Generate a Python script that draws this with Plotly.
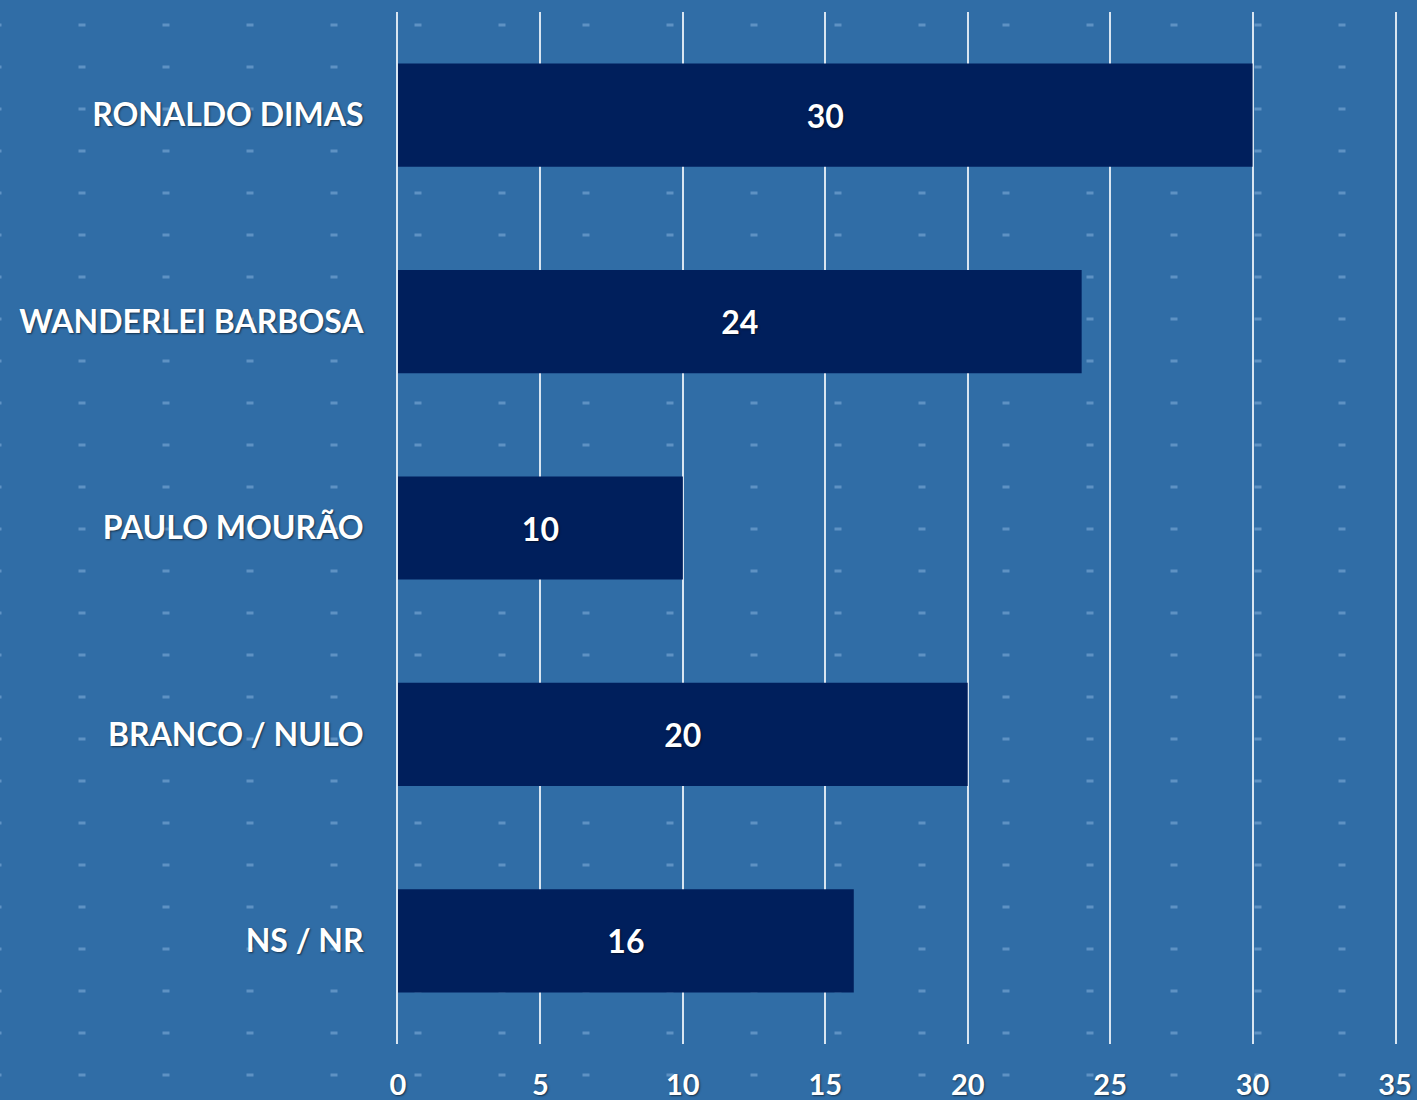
import plotly.graph_objects as go

categories = ["RONALDO DIMAS", "WANDERLEI BARBOSA", "PAULO MOURÃO", "BRANCO / NULO", "NS / NR"]
values = [30, 24, 10, 20, 16]
tick_vals = [0, 5, 10, 15, 20, 25, 30, 35]

W, H = 1417, 1100
L, R, T, B = 398, 22, 12, 56
PW, PH = W - L - R, H - T - B

BG = "#306da6"
BAR = "#001f5c"
GRID = "rgba(235,242,250,0.9)"
FONT = "Lato, 'Open Sans', sans-serif"
SHADOW = "1px 1px 2px rgba(0,0,0,0.55)"

fig = go.Figure()
fig.add_trace(go.Bar(
    x=values, y=categories, orientation="h",
    marker=dict(color=BAR, line=dict(width=0)),
    text=[str(v) for v in values], textposition="inside",
    insidetextanchor="middle",
    textfont=dict(family=FONT, size=32, color="white", weight=700, shadow=SHADOW),
    hoverinfo="skip",
))

# decorative dash pattern in the background
shapes = []
for i in range(-1, 18):
    cx = 82 + 84 * i
    for j in range(0, 27):
        cy = 25 + 42 * j
        x0 = (cx - 3.5 - L) / PW
        x1 = (cx + 3.5 - L) / PW
        y0 = 1 - (cy + 1.5 - T) / PH
        y1 = 1 - (cy - 1.5 - T) / PH
        shapes.append(dict(type="rect", xref="paper", yref="paper",
                           x0=x0, x1=x1, y0=y0, y1=y1, layer="below",
                           fillcolor="rgba(150,190,230,0.45)", line=dict(width=0)))

fig.update_layout(
    width=W, height=H,
    margin=dict(l=L, r=R, t=T, b=B, autoexpand=False),
    paper_bgcolor=BG, plot_bgcolor=BG,
    bargap=0.5, showlegend=False,
    shapes=shapes,
    xaxis=dict(range=[0, 35], tickvals=tick_vals, showgrid=True,
               gridcolor=GRID, gridwidth=2,
               zeroline=False, showline=False, ticks="", automargin=False,
               tickfont=dict(family=FONT, size=29, color="white", weight=700, shadow=SHADOW),
               ticklabelstandoff=21, fixedrange=True),
    yaxis=dict(categoryorder="array", categoryarray=categories, autorange="reversed",
               showgrid=False, zeroline=False, showline=True, mirror=True,
               linecolor=GRID, linewidth=2, ticks="", automargin=False,
               tickfont=dict(family=FONT, size=32, color="white", weight=700, shadow=SHADOW),
               ticklabelstandoff=26, fixedrange=True),
)

fig.write_html(
    "out.html",
    config={"displayModeBar": False},
    post_script="document.body.style.margin='0';document.body.style.background='%s';" % BG,
)
